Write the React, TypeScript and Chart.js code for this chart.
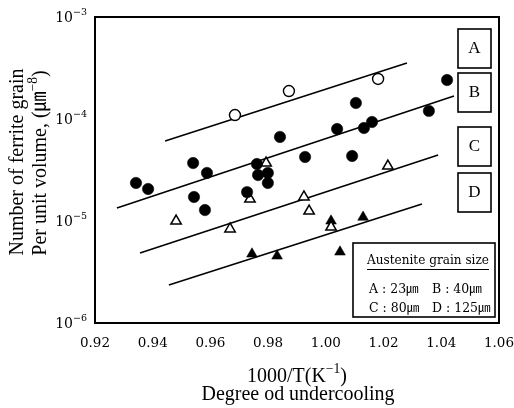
import React, { useEffect, useRef } from "react";
import { Chart, registerables } from "chart.js";

Chart.register(...registerables);

// ---- data ----
const xTicks = [0.92, 0.94, 0.96, 0.98, 1.0, 1.02, 1.04, 1.06];
const yTickExps = [-3, -4, -5, -6];

// A : 23 µm (open circles)
const aX = [0.9685, 0.9872, 1.0181];
const aY = [1.094e-4, 1.88e-4, 2.47e-4];
// B : 40 µm (filled circles)
const bX = [0.9342, 0.9384, 0.954, 0.9588, 0.9543, 0.9581, 0.9727, 0.9761, 0.9765, 0.9799, 0.9799, 0.9841, 0.9928, 1.0039, 1.0091, 1.0104, 1.0132, 1.016, 1.0357, 1.042];
const bY = [2.36e-5, 2.06e-5, 3.7e-5, 2.96e-5, 1.72e-5, 1.28e-5, 1.92e-5, 3.62e-5, 2.82e-5, 2.96e-5, 2.36e-5, 6.67e-5, 4.24e-5, 7.98e-5, 4.34e-5, 1.436e-4, 8.16e-5, 9.35e-5, 1.2e-4, 2.41e-4];
// C : 80 µm (open triangles)
const cX = [0.9481, 0.9668, 0.9737, 0.9793, 0.9924, 0.9942, 1.0018, 1.0215];
const cY = [1.0e-5, 8.35e-6, 1.64e-5, 3.7e-5, 1.72e-5, 1.25e-5, 8.73e-6, 3.46e-5];
// D : 125 µm (filled triangles)
const dX = [0.9744, 0.9831, 1.0018, 1.0049, 1.0129];
const dY = [4.75e-6, 4.54e-6, 1.0e-5, 4.97e-6, 1.09e-5];

// fitted lines (end points)
const fitAX = [0.9443, 1.0281];
const fitAY = [6.08e-5, 3.54e-4];
const fitBX = [0.9276, 1.0444];
const fitBY = [1.34e-5, 1.68e-4];
const fitCX = [0.9356, 1.0389];
const fitCY = [4.86e-6, 4.44e-5];
const fitDX = [0.9456, 1.0333];
const fitDY = [2.36e-6, 1.47e-5];

const boxLabels = ["A", "B", "C", "D"];
const legendTitle = "Austenite grain size";
const legendRows = [
  ["A : 23㎛", "B : 40㎛"],
  ["C : 80㎛", "D : 125㎛"],
];
const yTitle1 = "Number of ferrite grain";
const yTitle2 = "Per unit volume, (㎛";
const xTitle1 = "1000/T(K";
const xTitle2 = "Degree od undercooling";

const WIDE = "'DejaVu Serif', 'Liberation Serif', 'Noto Sans CJK JP', serif";
const TIMES = "'Liberation Serif', 'DejaVu Serif', 'Noto Sans CJK JP', serif";

type Part = { t: string; sup?: boolean };

function measureRich(ctx: CanvasRenderingContext2D, parts: Part[], size: number, fam: string) {
  const supSize = size * 0.68;
  return parts.map((p) => {
    ctx.font = `${p.sup ? supSize : size}px ${fam}`;
    return ctx.measureText(p.t).width;
  });
}

function fitSize(ctx: CanvasRenderingContext2D, parts: Part[], fam: string, width: number) {
  const w0 = measureRich(ctx, parts, 20, fam).reduce((a, b) => a + b, 0);
  return (20 * width) / w0;
}

function drawRich(ctx: CanvasRenderingContext2D, parts: Part[], x: number, y: number, size: number, align: "left" | "center" | "right", fam: string) {
  const supSize = size * 0.68;
  const widths = measureRich(ctx, parts, size, fam);
  const total = widths.reduce((a, b) => a + b, 0);
  let cx = align === "left" ? x : align === "center" ? x - total / 2 : x - total;
  ctx.textBaseline = "middle";
  ctx.textAlign = "left";
  parts.forEach((p, i) => {
    ctx.font = `${p.sup ? supSize : size}px ${fam}`;
    ctx.fillText(p.t, cx, p.sup ? y - size * 0.38 : y);
    cx += widths[i];
  });
  return total;
}

const decorPlugin = {
  id: "decor",
  afterDraw(chart: any) {
    const ctx: CanvasRenderingContext2D = chart.ctx;
    const ca = chart.chartArea;
    const xs = chart.scales.x;
    const ys = chart.scales.y;
    ctx.save();
    ctx.fillStyle = "#000";
    ctx.strokeStyle = "#000";

    // frame
    ctx.lineWidth = 2;
    ctx.strokeRect(ca.left, ca.top, ca.right - ca.left, ca.bottom - ca.top);

    // y tick labels
    yTickExps.forEach((e) => {
      const py = ys.getPixelForValue(Math.pow(10, e));
      drawRich(ctx, [{ t: "10" }, { t: "−" + String(-e), sup: true }], 87, py + 1, 14, "right", WIDE);
    });

    // x tick labels
    xTicks.forEach((v) => {
      const px = xs.getPixelForValue(v);
      ctx.font = `13.5px ${WIDE}`;
      ctx.textAlign = "center";
      ctx.textBaseline = "middle";
      ctx.fillText(v.toFixed(2), px, 343);
    });

    // titles share one size
    const tSize = fitSize(ctx, [{ t: yTitle1 }], TIMES, 187);

    ctx.save();
    ctx.translate(18, 162);
    ctx.rotate(-Math.PI / 2);
    drawRich(ctx, [{ t: yTitle1 }], 0, 0, tSize, "center", TIMES);
    ctx.restore();
    ctx.save();
    ctx.translate(41, 163);
    ctx.rotate(-Math.PI / 2);
    drawRich(ctx, [{ t: yTitle2 }, { t: "−8", sup: true }, { t: ")" }], 0, 0, tSize, "center", TIMES);
    ctx.restore();

    drawRich(ctx, [{ t: xTitle1 }, { t: "−1", sup: true }, { t: ")" }], 297, 377, tSize, "center", TIMES);
    drawRich(ctx, [{ t: xTitle2 }], 298, 395, tSize, "center", TIMES);

    // right boxes
    const boxTops = [29, 73, 127, 173];
    ctx.lineWidth = 1.6;
    boxLabels.forEach((l, i) => {
      ctx.fillStyle = "#fff";
      ctx.fillRect(458, boxTops[i], 33, 39);
      ctx.strokeRect(458, boxTops[i], 33, 39);
      ctx.fillStyle = "#000";
      drawRich(ctx, [{ t: l }], 474.5, boxTops[i] + 20, 17, "center", TIMES);
    });

    // legend box
    ctx.fillStyle = "#fff";
    ctx.fillRect(353, 243, 142, 74);
    ctx.lineWidth = 1.6;
    ctx.strokeRect(353, 243, 142, 74);
    ctx.fillStyle = "#000";
    const lSize = fitSize(ctx, [{ t: legendTitle }], WIDE, 122);
    const tw = drawRich(ctx, [{ t: legendTitle }], 428, 261, lSize, "center", WIDE);
    ctx.lineWidth = 1;
    ctx.beginPath();
    ctx.moveTo(428 - tw / 2, 269.5);
    ctx.lineTo(428 + tw / 2, 269.5);
    ctx.stroke();
    drawRich(ctx, [{ t: legendRows[0][0] }], 369, 290, 12.5, "left", WIDE);
    drawRich(ctx, [{ t: legendRows[0][1] }], 432, 290, 12.5, "left", WIDE);
    drawRich(ctx, [{ t: legendRows[1][0] }], 369, 309, 12.5, "left", WIDE);
    drawRich(ctx, [{ t: legendRows[1][1] }], 432, 309, 12.5, "left", WIDE);

    ctx.restore();
  },
};

function pts(xs: number[], ys: number[]) {
  return xs.map((x, i) => ({ x, y: ys[i] }));
}

export default function App() {
  const ref = useRef<HTMLCanvasElement>(null);
  useEffect(() => {
    if (!ref.current) return;
    const lineDs = (xs: number[], ys: number[]) => ({
      type: "line" as const,
      data: pts(xs, ys),
      showLine: true,
      borderColor: "#000",
      borderWidth: 1.6,
      pointRadius: 0,
      fill: false,
      order: 2,
    });
    const chart = new Chart(ref.current, {
      type: "scatter",
      data: {
        datasets: [
          { data: pts(aX, aY), pointStyle: "circle", pointRadius: 5.5, backgroundColor: "#fff", borderColor: "#000", borderWidth: 1.4, order: 1 },
          { data: pts(bX, bY), pointStyle: "circle", pointRadius: 5.7, backgroundColor: "#000", borderColor: "#000", borderWidth: 0.5, order: 1 },
          { data: pts(cX, cY), pointStyle: "triangle", pointRadius: 6, backgroundColor: "#fff", borderColor: "#000", borderWidth: 1.5, order: 1 },
          { data: pts(dX, dY), pointStyle: "triangle", pointRadius: 6.2, backgroundColor: "#000", borderColor: "#000", borderWidth: 0.5, order: 1 },
          lineDs(fitAX, fitAY) as any,
          lineDs(fitBX, fitBY) as any,
          lineDs(fitCX, fitCY) as any,
          lineDs(fitDX, fitDY) as any,
        ],
      },
      options: {
        responsive: false,
        maintainAspectRatio: false,
        animation: false,
        devicePixelRatio: 1,
        layout: { padding: { left: 0, top: 17, right: 15, bottom: 0 } },
        plugins: { legend: { display: false }, tooltip: { enabled: false } },
        scales: {
          x: {
            type: "linear",
            min: 0.92,
            max: 1.06,
            ticks: { display: false, stepSize: 0.02 },
            grid: { display: false, drawTicks: false },
            border: { display: false },
            afterFit: (s: any) => { s.height = 85; },
          },
          y: {
            type: "logarithmic",
            min: 1e-6,
            max: 1e-3,
            ticks: { display: false },
            grid: { display: false, drawTicks: false },
            border: { display: false },
            afterFit: (s: any) => { s.width = 95; },
          },
        },
      },
      plugins: [decorPlugin],
    });
    return () => chart.destroy();
  }, []);
  return (
    <div style={{ position: "absolute", left: 0, top: 0, width: 514, height: 408, background: "#fff" }}>
      <canvas ref={ref} width={514} height={408} style={{ display: "block" }} />
    </div>
  );
}
